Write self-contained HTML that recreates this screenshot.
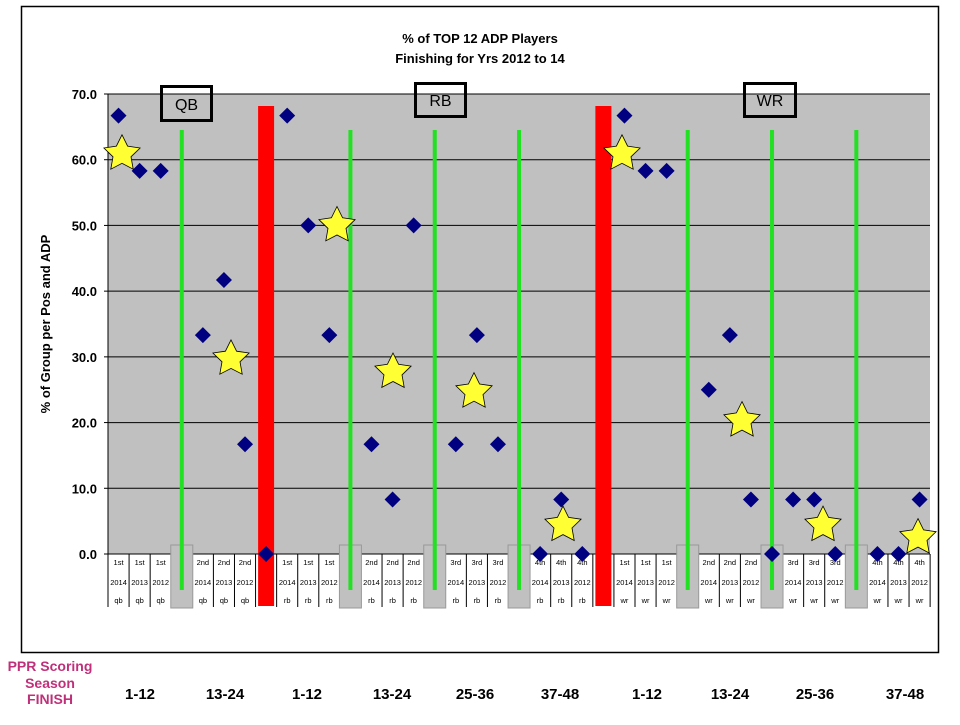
<!DOCTYPE html>
<html><head><meta charset="utf-8"><style>
body{margin:0;background:#fff;width:960px;height:720px;overflow:hidden;font-family:"Liberation Sans",Arial,sans-serif}
</style></head><body>
<svg id="s" width="960" height="720" xmlns="http://www.w3.org/2000/svg" font-family="Liberation Sans, Arial, sans-serif">
<rect x="21.5" y="6.5" width="917" height="646" fill="#fff" stroke="#000" stroke-width="1.5"/>
<text x="480" y="43" text-anchor="middle" font-size="13" font-weight="bold">% of TOP 12 ADP Players</text>
<text x="480" y="63" text-anchor="middle" font-size="13" font-weight="bold">Finishing for Yrs 2012 to 14</text>
<rect x="108" y="94" width="822" height="460" fill="#c0c0c0"/>
<g id="g"></g>
<text transform="translate(50,324) rotate(-90)" text-anchor="middle" font-size="13" font-weight="bold">% of Group per Pos and ADP</text>
<g font-size="16" font-weight="bold" fill="#c0307a" text-anchor="middle">
<text x="50" y="671" font-size="14">PPR Scoring</text>
<text x="50" y="688" font-size="14">Season</text>
<text x="50" y="704" font-size="14">FINISH</text>
</g>
<g font-size="15" font-weight="bold" text-anchor="middle">
<text x="140" y="699">1-12</text><text x="225" y="699">13-24</text><text x="307" y="699">1-12</text>
<text x="392" y="699">13-24</text><text x="475" y="699">25-36</text><text x="560" y="699">37-48</text>
<text x="647" y="699">1-12</text><text x="730" y="699">13-24</text><text x="815" y="699">25-36</text><text x="905" y="699">37-48</text>
</g>
</svg>
<script>
var g=document.getElementById('g'),h='';
function Y(v){return 554-v*460/70;}
function X(i){return 108+21.08*(i+0.5);}
for(var k=0;k<=7;k++){var y=Y(k*10);
 if(k>0)h+='<line x1="108" x2="930" y1="'+y+'" y2="'+y+'" stroke="#000" stroke-width="1"/>';
 h+='<line x1="104" x2="108" y1="'+y+'" y2="'+y+'" stroke="#000"/>';
 h+='<text x="97" y="'+(y+5)+'" text-anchor="end" font-size="13" font-weight="bold">'+(k*10)+'.0</text>';}
h+='<line x1="108" x2="108" y1="94" y2="554" stroke="#000"/>';
h+='<line x1="108" x2="930" y1="554" y2="554" stroke="#000"/>';
var gaps=[3,11,15,19,27,31,35],reds=[7,23];
var groups=[[0,'1st','qb'],[4,'2nd','qb'],[8,'1st','rb'],[12,'2nd','rb'],[16,'3rd','rb'],[20,'4th','rb'],[24,'1st','wr'],[28,'2nd','wr'],[32,'3rd','wr'],[36,'4th','wr']];
var yrs=['2014','2013','2012'];
groups.forEach(function(gr){for(var j=0;j<3;j++){var i=gr[0]+j,x=X(i);
 h+='<text x="'+x+'" y="565" text-anchor="middle" font-size="7.5">'+gr[1]+'</text>';
 h+='<text x="'+x+'" y="585" text-anchor="middle" font-size="7.5">'+yrs[j]+'</text>';
 h+='<text x="'+x+'" y="603" text-anchor="middle" font-size="7.5">'+gr[2]+'</text>';}});
for(var i=0;i<=39;i++){var x=108+21.08*i;h+='<line x1="'+x+'" x2="'+x+'" y1="554" y2="607" stroke="#000"/>';}
gaps.forEach(function(i){var x=X(i);
 h+='<rect x="'+(x-11)+'" y="545" width="22" height="63" fill="#c0c0c0" stroke="#999"/>';
 h+='<rect x="'+(x-2)+'" y="130" width="4" height="460" fill="#22e022"/>';});
reds.forEach(function(i){var x=X(i);h+='<rect x="'+(x-8)+'" y="106" width="16" height="500" fill="#ff0000"/>';});
var d={0:66.7,1:58.3,2:58.3,4:33.3,5:41.7,6:16.7,7:0,8:66.7,9:50,10:33.3,12:16.7,13:8.3,14:50,16:16.7,17:33.3,18:16.7,20:0,21:8.3,22:0,24:66.7,25:58.3,26:58.3,28:25,29:33.3,30:8.3,31:0,32:8.3,33:8.3,34:0,36:0,37:0,38:8.3};
for(var i in d){var x=X(+i),y=Y(d[i]);
 h+='<polygon points="'+x+','+(y-8)+' '+(x+8)+','+y+' '+x+','+(y+8)+' '+(x-8)+','+y+'" fill="#000080"/>';}
function star(x,y,r){var p=[];for(var k=0;k<10;k++){var a=-Math.PI/2+k*Math.PI/5,rr=k%2?r*0.5:r;p.push((x+rr*Math.cos(a)).toFixed(1)+','+(y+rr*Math.sin(a)).toFixed(1));}
 return '<polygon points="'+p.join(' ')+'" fill="#ffff33" stroke="#000" stroke-width="0.8"/>';}
[[122,61.2],[231,30],[337,50.3],[393,28],[474,25],[563,4.7],[622,61.2],[742,20.6],[823,4.7],[918,2.8]].forEach(function(s){h+=star(s[0],Y(s[1])+2,19);});
h+='<rect x="161.5" y="86.5" width="50" height="34" fill="none" stroke="#000" stroke-width="3"/><text x="186.5" y="110" text-anchor="middle" font-size="16">QB</text>';
h+='<rect x="415.5" y="83.5" width="50" height="33" fill="none" stroke="#000" stroke-width="3"/><text x="440.5" y="106" text-anchor="middle" font-size="16">RB</text>';
h+='<rect x="744.5" y="83.5" width="51" height="33" fill="none" stroke="#000" stroke-width="3"/><text x="770" y="106" text-anchor="middle" font-size="16">WR</text>';
g.innerHTML=h;
</script>
</body></html>
